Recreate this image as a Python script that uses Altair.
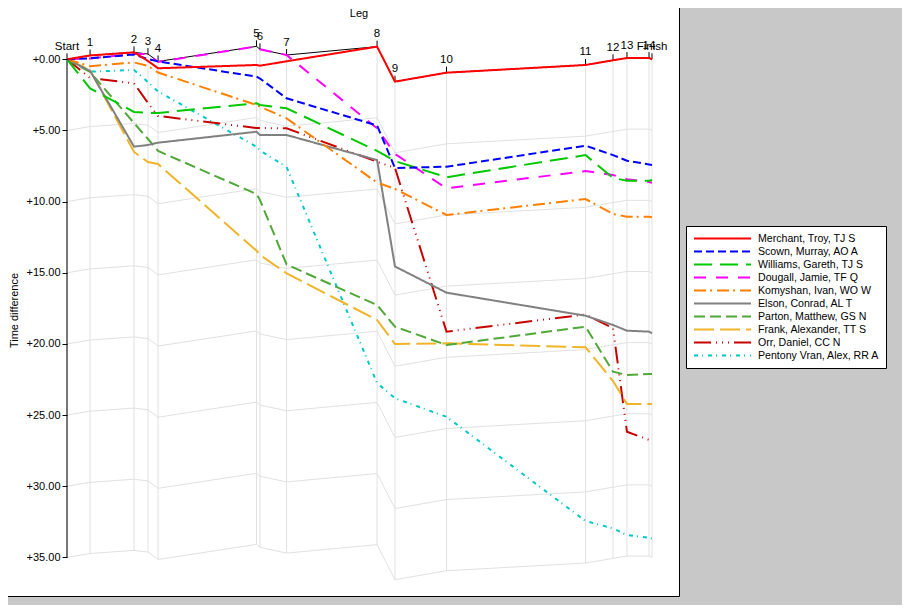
import altair as alt
import pandas as pd

FONT = "Liberation Sans"

# ---------------- data ----------------
controls = ["Start", "1", "2", "3", "4", "5", "6", "7", "8", "9", "10",
            "11", "12", "13", "14", "Finish"]
# position of each control along the leg axis (reference minutes)
control_pos = [0.0, 1.62, 4.71, 5.69, 6.40, 13.32, 13.56, 15.43, 21.79,
               23.05, 26.67, 36.44, 38.37, 39.35, 40.90, 41.11]

names = ["Merchant, Troy, TJ S", "Scown, Murray, AO A", "Williams, Gareth, TJ S",
         "Dougall, Jamie, TF Q", "Komyshan, Ivan, WO W", "Elson, Conrad, AL T",
         "Parton, Matthew, GS N", "Frank, Alexander, TT S", "Orr, Daniel, CC N",
         "Pentony Vran, Alex, RR A"]

# time difference (minutes) at each control
merchant = [0.00, -0.27, -0.49, 0.12, 0.63, 0.40, 0.45, 0.14, -0.89, 1.57, 0.94, 0.40, 0.07, -0.09, -0.09, 0.00]
scown    = [0.00, -0.07, -0.34, -0.02, 0.15, 1.22, 1.35, 2.74, 4.65, 7.64, 7.55, 6.07, 6.73, 7.13, 7.39, 7.43]
williams = [0.00, 2.05, 3.70, 3.77, 3.77, 3.09, 3.21, 3.44, 6.44, 7.15, 8.29, 6.73, 8.34, 8.53, 8.53, 8.48]
dougall  = [0.00, -0.06, -0.37, -0.37, 0.19, -0.91, -0.70, -0.30, 4.85, 6.65, 9.07, 7.85, 8.13, 8.43, 8.62, 8.67]
komyshan = [0.00, 0.49, 0.22, 0.47, 0.93, 3.21, 3.33, 4.15, 8.66, 9.11, 10.94, 9.82, 10.87, 11.06, 11.06, 11.10]
elson    = [0.00, 0.81, 6.14, 6.02, 5.86, 5.09, 5.32, 5.32, 7.08, 14.56, 16.40, 18.02, 18.67, 19.07, 19.14, 19.26]
parton   = [0.00, 0.89, 4.48, 5.60, 6.44, 9.47, 9.89, 14.42, 17.27, 18.79, 20.08, 18.79, 21.95, 22.19, 22.12, 22.12]
frank    = [0.00, 0.75, 6.51, 7.22, 7.36, 13.45, 13.75, 15.04, 18.32, 20.01, 19.96, 20.24, 22.61, 24.22, 24.22, 24.22]
orr      = [0.00, 1.31, 1.69, 3.07, 3.98, 4.83, 4.83, 4.85, 7.20, 7.64, 19.14, 17.93, 18.90, 26.17, 26.75, 26.94]
pentony  = [0.00, 0.87, 0.75, 1.60, 2.26, 6.14, 6.41, 7.57, 22.75, 23.82, 25.12, 32.45, 32.96, 33.43, 33.62, 33.69]

series = [merchant, scown, williams, dougall, komyshan, elson, parton, frank, orr, pentony]

colors = ["#ff0000", "#0000ff", "#00c800", "#ff00ff", "#ff8000",
          "#808080", "#50a838", "#f0b428", "#c80000", "#00c8c8"]
dashes = [[1, 0], [8, 4], [18, 8], [12, 10], [12, 4, 2, 5],
          [1, 0], [11, 5], [20, 6], [17, 5, 1, 5, 1, 5, 1, 5], [4, 4, 1, 5]]

y_ticks = [0, 5, 10, 15, 20, 25, 30, 35]

# ---------------- tables ----------------
rows = []
for s_i in reversed(range(len(names))):           # first runner drawn on top
    for c_i, v in enumerate(series[s_i]):
        rows.append({"name": names[s_i], "pos": control_pos[c_i], "diff": v, "ci": c_i})
df = pd.DataFrame(rows)

env = [min(s[i] for s in series) for i in range(len(controls))]
PX = 14.23                                          # pixels per minute
ctrl_df = pd.DataFrame({"control": controls, "pos": control_pos, "env": env})
ctrl_df["env_bottom"] = ctrl_df["env"] + max(y_ticks)
ctrl_df["env_tick"] = ctrl_df["env"] - 6 / PX

grid_rows = []
for k in y_ticks[1:]:
    for c_i in range(len(controls)):
        grid_rows.append({"k": k, "pos": control_pos[c_i], "y": env[c_i] + k})
grid_df = pd.DataFrame(grid_rows)

axis_df = pd.DataFrame({"pos": [control_pos[0]], "y0": [min(y_ticks)], "y1": [max(y_ticks)]})

# ---------------- layout / scales ----------------
W, H = 894, 597
x0_px, y0_px = 67 - 8, 59.3 - 8
xmin = -x0_px / PX
xmax = xmin + W / PX
ymin = -y0_px / PX
ymax = ymin + H / PX

xscale = alt.Scale(domain=[xmin, xmax], nice=False, zero=False)
yscale = alt.Scale(domain=[ymin, ymax], nice=False, zero=False, reverse=True)

yaxis = alt.Axis(values=y_ticks, labelExpr="'+' + format(datum.value, '.2f')",
                 domain=False, grid=False, offset=-x0_px, tickSize=5, tickColor="black",
                 labelFont=FONT, labelFontSize=11, labelColor="black", labelPadding=2,
                 title="Time difference", titleFont=FONT, titleFontSize=11,
                 titleFontWeight="normal", titleColor="black", titleAngle=270,
                 titleX=-53, titleY=302, titleAlign="center", titleBaseline="middle",
                 zindex=2)


def X(f):
    return alt.X(f, type="quantitative", scale=xscale, axis=None)


def Y(f):
    return alt.Y(f, type="quantitative", scale=yscale, axis=yaxis, title="Time difference")


GRID = "#e1e1e1"

panel = alt.Chart(pd.DataFrame({"a": [0]})).mark_rect(
    fill="white", stroke="black", strokeWidth=1).encode(
    x=alt.value(-1), x2=alt.value(671.5), y=alt.value(-1), y2=alt.value(588.5))

vgrid = alt.Chart(ctrl_df).mark_rule(color=GRID, strokeWidth=1).encode(
    x=X("pos"), y=Y("env"), y2="env_bottom")

hgrid = alt.Chart(grid_df).mark_line(color=GRID, strokeWidth=1).encode(
    x=X("pos"), y=Y("y"), detail="k:N")

envelope = alt.Chart(ctrl_df).mark_line(color="black", strokeWidth=1).encode(
    x=X("pos"), y=Y("env"))

ticks = alt.Chart(ctrl_df).mark_rule(color="black", strokeWidth=1).encode(
    x=X("pos"), y=Y("env"), y2="env_tick")

labels = alt.Chart(ctrl_df).mark_text(
    font=FONT, fontSize=11.5, color="black", baseline="alphabetic", align="center", dy=-9.5
).encode(x=X("pos"), y=Y("env"), text="control:N")

yline = alt.Chart(axis_df).mark_rule(color="black", strokeWidth=1).encode(
    x=X("pos"), y=Y("y0"), y2="y1")

legend = alt.Legend(orient="none", legendX=678, legendY=218, title=None,
                    fillColor="white", strokeColor="black", padding=6,
                    symbolType="stroke", symbolSize=57 * 57, symbolStrokeWidth=2,
                    symbolOffset=1, clipHeight=13, rowPadding=0,
                    labelFont=FONT, labelFontSize=10.6, labelColor="black",
                    labelOffset=6, labelLimit=300)

lines = alt.Chart(df).mark_line(strokeWidth=2).encode(
    x=X("pos"), y=Y("diff"), order="ci:Q",
    color=alt.Color("name:N", scale=alt.Scale(domain=names, range=colors), legend=legend),
    strokeDash=alt.StrokeDash("name:N", scale=alt.Scale(domain=names, range=dashes), legend=legend),
)

leg_title = alt.Chart(pd.DataFrame({"t": ["Leg"]})).mark_text(
    font=FONT, fontSize=11, color="black", align="center", baseline="alphabetic"
).encode(text="t:N", x=alt.value(351), y=alt.value(8.5))

chart = alt.layer(panel, vgrid, hgrid, envelope, ticks, labels, yline, lines, leg_title).properties(
    width=W, height=H, background="#c8c8c8",
    autosize=alt.AutoSizeParams(type="none"), padding=0,
).configure_view(stroke=None)

chart.save("out.html", embed_options={"renderer": "svg", "actions": False})
